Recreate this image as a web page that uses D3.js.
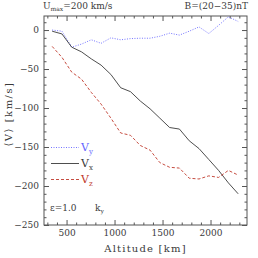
<!DOCTYPE html>
<html>
<head>
<meta charset="utf-8">
<script src="https://cdn.jsdelivr.net/npm/d3@7"></script>
<style>
  body { margin: 0; background: #fff; }
  text { font-family: "DejaVu Serif", "Liberation Serif", serif; fill: #3a3a3a; }
</style>
</head>
<body>
<div id="chart"></div>
<script>
// altitude grid [km] and the three velocity components [km/s]
var altitude = [350, 452, 554, 656, 758, 860, 962, 1064, 1166, 1268,
                1370, 1472, 1574, 1676, 1778, 1880, 1982, 2084, 2186, 2288];
var vx = [-1.5, -5, -22, -28, -37, -45, -57, -74, -79, -91,
          -101, -113, -125, -127, -142, -152, -166, -180, -196, -210];
var vy = [0, -1.5, -22, -18, -12.5, -17, -10, -12.5, -11, -10.5,
          -10.5, -8, -4, -6.5, -1.5, 4, -4.5, 6, 17, 11];
var vz = [-21, -35, -54, -63, -80, -95, -113, -132, -135, -148,
          -154, -170, -176, -177, -190, -191, -187, -189, -180, -186];

var xTicks = [500, 1000, 1500, 2000];
var xMinor = [300, 400, 600, 700, 800, 900, 1100, 1200, 1300, 1400, 1600, 1700, 1800, 1900, 2100, 2200, 2300];
var yTicks = [0, -50, -100, -150, -200, -250];
var yMinor = [10, -10, -20, -30, -40, -60, -70, -80, -90, -110, -120, -130, -140,
              -160, -170, -180, -190, -210, -220, -230, -240];

var series = [
  {name: "y", values: vy, color: "#6464ff", dash: "1,1.5", legendY: 147.5},
  {name: "x", values: vx, color: "#3a3a3a", dash: null, legendY: 163.5},
  {name: "z", values: vz, color: "#c0392b", dash: "3,2", legendY: 179.5}
];

var W = 258, H = 258;
var mLeft = 44, mRight = 247, mTop = 16, mBottom = 225;

var svg = d3.select("#chart").append("svg")
    .attr("width", W)
    .attr("height", H);

var x = d3.scaleLinear().domain([265, 2380]).range([mLeft, mRight]);
var y = d3.scaleLinear().domain([-250, 18]).range([mBottom, mTop]);

// frame
svg.append("rect")
    .attr("x", mLeft).attr("y", mTop)
    .attr("width", mRight - mLeft).attr("height", mBottom - mTop)
    .attr("fill", "none").attr("stroke", "#555").attr("stroke-width", 1);

// inward ticks on all four sides
function tickAxis(axis, tf, len, values, labels) {
  var g = svg.append("g")
      .attr("transform", tf)
      .call(axis.tickValues(values).tickSize(-len).tickPadding(labels ? 5 : 0)
            .tickFormat(labels ? (d => d < 0 ? "\u2212" + Math.abs(d) : d) : ""));
  g.select(".domain").remove();
  g.selectAll("line").attr("stroke", "#555");
  g.selectAll("text").style("font-size", "9px").attr("fill", "#3a3a3a");
  return g;
}
tickAxis(d3.axisBottom(x), "translate(0," + mBottom + ")", 5, xTicks, true);
tickAxis(d3.axisBottom(x), "translate(0," + mBottom + ")", 2.5, xMinor, false);
tickAxis(d3.axisTop(x), "translate(0," + mTop + ")", 5, xTicks, false);
tickAxis(d3.axisTop(x), "translate(0," + mTop + ")", 2.5, xMinor, false);
tickAxis(d3.axisLeft(y), "translate(" + mLeft + ",0)", 5, yTicks, true);
tickAxis(d3.axisLeft(y), "translate(" + mLeft + ",0)", 2.5, yMinor, false);
tickAxis(d3.axisRight(y), "translate(" + mRight + ",0)", 5, yTicks, false);
tickAxis(d3.axisRight(y), "translate(" + mRight + ",0)", 2.5, yMinor, false);

// data lines
var line = d3.line()
    .x((d, i) => x(altitude[i]))
    .y(d => y(d));

series.forEach(function(s) {
  svg.append("path")
      .datum(s.values)
      .attr("d", line)
      .attr("fill", "none")
      .attr("stroke", s.color)
      .attr("stroke-width", 0.9)
      .attr("stroke-dasharray", s.dash);
});

// legend
series.forEach(function(s) {
  svg.append("line")
      .attr("x1", 51).attr("x2", 79)
      .attr("y1", s.legendY).attr("y2", s.legendY)
      .attr("stroke", s.color).attr("stroke-width", 0.9)
      .attr("stroke-dasharray", s.dash);
  var t = svg.append("text")
      .attr("x", 81).attr("y", s.legendY + 3)
      .style("font-size", "11px")
      .style("fill", s.color);
  t.append("tspan").text("V");
  t.append("tspan").attr("dy", 3).style("font-size", "7px").text(s.name);
});

// annotations
var t1 = svg.append("text").attr("x", 43).attr("y", 9).style("font-size", "9px");
t1.append("tspan").text("U");
t1.append("tspan").attr("dy", 2).style("font-size", "6px").text("max");
t1.append("tspan").attr("dy", -2).text("=200 km/s");

svg.append("text").attr("x", 248).attr("y", 9)
    .attr("text-anchor", "end").style("font-size", "9px")
    .text("B=(20\u221235)nT");

svg.append("text").attr("x", 50).attr("y", 211)
    .style("font-size", "9px").text("\u03b5=1.0");
var t2 = svg.append("text").attr("x", 95).attr("y", 211).style("font-size", "9px");
t2.append("tspan").text("k");
t2.append("tspan").attr("dy", 2).style("font-size", "6px").text("y");

svg.append("text")
    .attr("x", (mLeft + mRight) / 2).attr("y", 252)
    .attr("text-anchor", "middle").style("font-size", "10px")
    .style("letter-spacing", "1.2px")
    .text("Altitude [km]");

svg.append("text")
    .attr("transform", "translate(12," + 114 + ") rotate(-90)")
    .attr("text-anchor", "middle").style("font-size", "10px")
    .style("letter-spacing", "1.5px")
    .text("\u27e8V\u27e9  [km/s]");
</script>
</body>
</html>
